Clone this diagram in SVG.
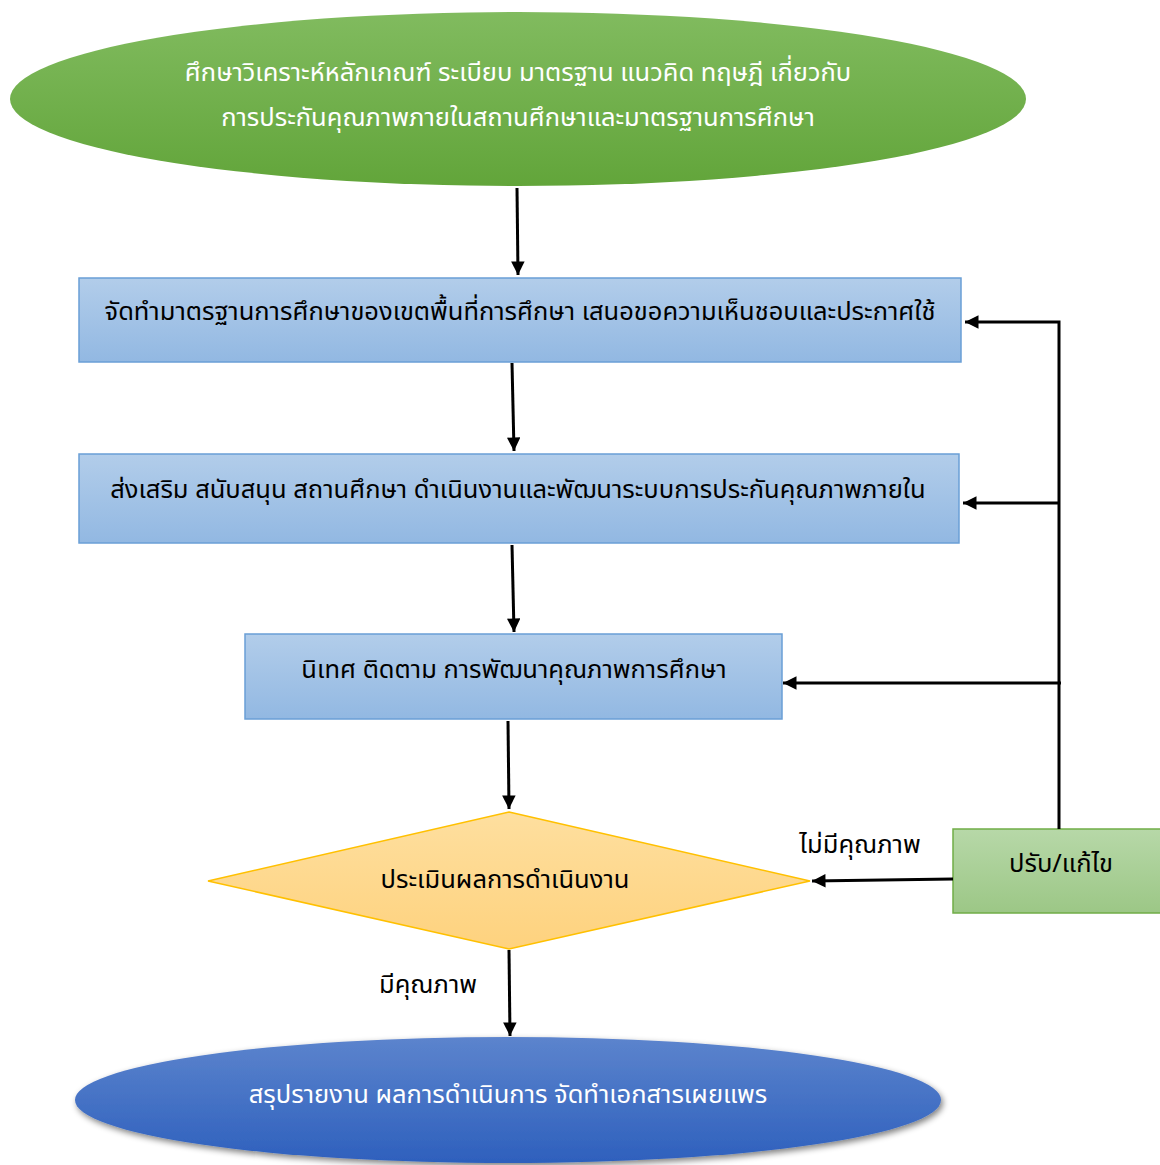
<svg xmlns="http://www.w3.org/2000/svg" width="1160" height="1165" viewBox="0 0 1160 1165">
<style>
text{font-family:"Noto Sans Thai","Noto Sans","DejaVu Sans",sans-serif;font-size:25.5px;text-anchor:middle;dominant-baseline:central}
.w{fill:#ffffff}
.k{fill:#000000}
.conn{stroke:#000;stroke-width:3;fill:none}
</style>
<defs>
<linearGradient id="gGreen" x1="0" y1="0" x2="0" y2="1"><stop offset="0" stop-color="#81bb5f"/><stop offset="1" stop-color="#62a53a"/></linearGradient>
<linearGradient id="gBlue" x1="0" y1="0" x2="0" y2="1"><stop offset="0" stop-color="#b2cdea"/><stop offset="1" stop-color="#92b8e2"/></linearGradient>
<linearGradient id="gYel" x1="0" y1="0" x2="0" y2="1"><stop offset="0" stop-color="#fedf9f"/><stop offset="1" stop-color="#fed27e"/></linearGradient>
<linearGradient id="gDark" x1="0" y1="0" x2="0" y2="1"><stop offset="0" stop-color="#5c84cd"/><stop offset="1" stop-color="#2e60bd"/></linearGradient>
<linearGradient id="gLG" x1="0" y1="0" x2="0" y2="1"><stop offset="0" stop-color="#b7d8a8"/><stop offset="1" stop-color="#9cc786"/></linearGradient>
<filter id="sh" x="-10%" y="-10%" width="120%" height="130%"><feGaussianBlur in="SourceAlpha" stdDeviation="3"/><feOffset dx="2" dy="3"/><feComponentTransfer><feFuncA type="linear" slope="0.5"/></feComponentTransfer><feMerge><feMergeNode/><feMergeNode in="SourceGraphic"/></feMerge></filter>
<marker id="ah" viewBox="0 0 10 10" refX="10" refY="5" markerWidth="5" markerHeight="4.5" orient="auto" markerUnits="strokeWidth"><path d="M0,0L10,5L0,10z" fill="#000"/></marker>
</defs>
<g id="node-study">
<ellipse cx="518" cy="99" rx="508" ry="87" fill="url(#gGreen)"/>
<text class="w" x="518" y="73">ศึกษาวิเคราะห์หลักเกณฑ์ ระเบียบ มาตรฐาน แนวคิด ทฤษฎี เกี่ยวกับ</text>
<text class="w" x="518" y="118">การประกันคุณภาพภายในสถานศึกษาและมาตรฐานการศึกษา</text>
</g>
<g id="node-standard">
<rect x="79" y="278" width="882" height="84" fill="url(#gBlue)" stroke="#6a9fd6" stroke-width="1.5"/>
<text class="k" x="520" y="312">จัดทำมาตรฐานการศึกษาของเขตพื้นที่การศึกษา เสนอขอความเห็นชอบและประกาศใช้</text>
</g>
<g id="node-promote">
<rect x="79" y="454" width="880" height="89" fill="url(#gBlue)" stroke="#6a9fd6" stroke-width="1.5"/>
<text class="k" x="518" y="490">ส่งเสริม สนับสนุน สถานศึกษา ดำเนินงานและพัฒนาระบบการประกันคุณภาพภายใน</text>
</g>
<g id="node-supervise">
<rect x="245" y="634" width="537" height="85" fill="url(#gBlue)" stroke="#6a9fd6" stroke-width="1.5"/>
<text class="k" x="514" y="670">นิเทศ ติดตาม การพัฒนาคุณภาพการศึกษา</text>
</g>
<g id="node-evaluate">
<polygon points="509,812 810,881 509,949 208,881" fill="url(#gYel)" stroke="#ffc000" stroke-width="1.5"/>
<text class="k" x="505" y="880">ประเมินผลการดำเนินงาน</text>
</g>
<g id="node-fix">
<rect x="953" y="829" width="210" height="84" fill="url(#gLG)" stroke="#70ad47" stroke-width="1.5"/>
<text class="k" x="1061" y="864">ปรับ/แก้ไข</text>
</g>
<g id="node-report">
<ellipse cx="508" cy="1100" rx="433" ry="63" fill="url(#gDark)" filter="url(#sh)"/>
<text class="w" x="508" y="1095">สรุปรายงาน ผลการดำเนินการ จัดทำเอกสารเผยแพร</text>
</g>
<g id="connectors">
<line class="conn" x1="517" y1="188" x2="518" y2="275" marker-end="url(#ah)"/>
<line class="conn" x1="512" y1="363" x2="514" y2="451" marker-end="url(#ah)"/>
<line class="conn" x1="512" y1="545" x2="514" y2="632" marker-end="url(#ah)"/>
<line class="conn" x1="508" y1="721" x2="509" y2="809" marker-end="url(#ah)"/>
<line class="conn" x1="509" y1="950" x2="510" y2="1036" marker-end="url(#ah)"/>
<line class="conn" x1="953" y1="879" x2="812" y2="881" marker-end="url(#ah)"/>
<polyline class="conn" points="1059,829 1059,322 965,322" marker-end="url(#ah)"/>
<line class="conn" x1="1059" y1="503" x2="963" y2="503" marker-end="url(#ah)"/>
<line class="conn" x1="1061" y1="683" x2="783" y2="683" marker-end="url(#ah)"/>
<text class="k" x="860" y="845">ไม่มีคุณภาพ</text>
<text class="k" x="428" y="985">มีคุณภาพ</text>
</g>
</svg>
